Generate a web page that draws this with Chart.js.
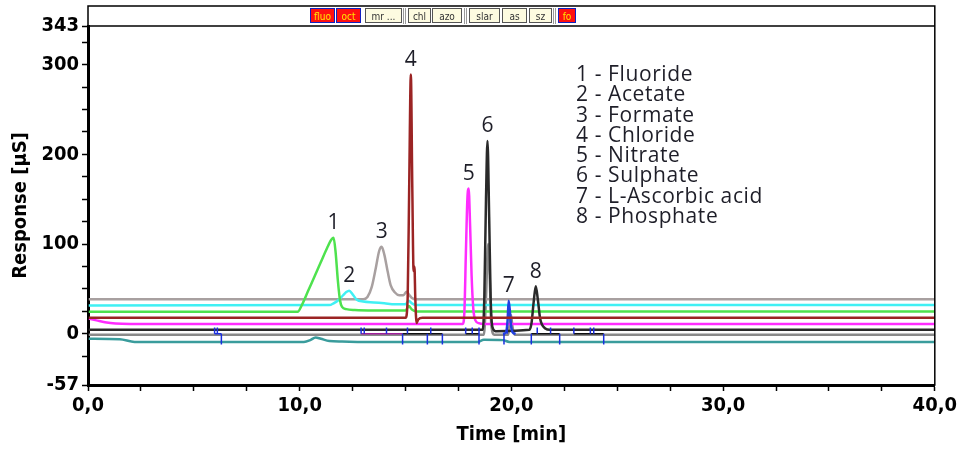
<!DOCTYPE html>
<html>
<head>
<meta charset="utf-8">
<script src="https://cdn.jsdelivr.net/npm/chart.js@4/dist/chart.umd.min.js"></script>
<style>
  body { margin: 0; background: #fff; }
  #wrap { position: relative; width: 960px; height: 450px; }
  .tag { position: absolute; top: 8px; height: 15px; font: 10px "DejaVu Sans Condensed", "DejaVu Sans", sans-serif;
         line-height: 15px; text-align: center; box-sizing: border-box; }
  .red { background: #ff1010; color: #ffe600; border: 1px solid #1020c0; }
  .pale { background: #fdfbe0; color: #333; border: 1px solid #555; }
  .sep { position: absolute; top: 8px; height: 16px; width: 3px; border-left: 1px solid #999; border-right: 1px solid #999; box-sizing: border-box; }
</style>
</head>
<body>
<div id="wrap">
  <canvas id="chrom" width="960" height="450"></canvas>
  <div class="tag red" style="left:310px;width:25px">fluo</div>
  <div class="tag red" style="left:336px;width:25px">oct</div>
  <div class="tag pale" style="left:365px;width:37px">mr ...</div>
  <div class="sep" style="left:403px"></div>
  <div class="tag pale" style="left:408px;width:23px">chl</div>
  <div class="tag pale" style="left:432px;width:30px">azo</div>
  <div class="sep" style="left:464px"></div>
  <div class="tag pale" style="left:469px;width:31px">slar</div>
  <div class="tag pale" style="left:502px;width:25px">as</div>
  <div class="tag pale" style="left:529px;width:23px">sz</div>
  <div class="sep" style="left:553px"></div>
  <div class="tag red" style="left:558px;width:18px">fo</div>
</div>
<script>
// compounds + peak labels
const compounds = ["Fluoride", "Acetate", "Formate", "Chloride", "Nitrate", "Sulphate", "L-Ascorbic acid", "Phosphate"];
const peakNo = ["1", "2", "3", "4", "5", "6", "7", "8"];
const peakTime = [11.6, 12.34, 13.87, 15.25, 17.98, 18.87, 19.87, 21.15];
const peakTop = [107, 48, 97, 289, 162, 215, 37, 53];

// traces (time in min, response in µS)
const formateT = [0, 13.0, 13.2, 13.4, 13.6, 13.75, 13.87, 14.0, 14.15, 14.3, 14.5, 14.7, 14.9, 15.05, 15.15, 15.3, 15.5, 40];
const formateV = [38.5, 38.5, 41, 52, 74, 92, 97, 88, 70, 54, 46, 43, 43, 47, 44, 40, 38.5, 38.5];
const acetateT = [0, 11.4, 11.6, 11.85, 12.05, 12.2, 12.34, 12.5, 12.7, 13.0, 13.5, 14.0, 14.5, 15.0, 15.15, 15.3, 15.5, 40];
const acetateV = [31.5, 32, 34, 38, 43, 46.5, 48, 44, 38, 36, 35, 34, 33, 33, 37, 34, 32, 32];
const fluorideT = [0, 9.9, 10.1, 10.4, 10.7, 11.0, 11.3, 11.5, 11.6, 11.7, 11.8, 11.9, 12.0, 12.2, 12.6, 13.5, 15.0, 15.15, 15.3, 15.5, 40];
const fluorideV = [24.5, 24.5, 32, 48, 64, 80, 96, 105, 107, 90, 60, 38, 30, 27.5, 26.5, 26, 26, 31, 27, 25, 25];
const chlorideT = [0, 15.0, 15.1, 15.17, 15.25, 15.32, 15.38, 15.42, 15.46, 15.52, 15.6, 15.8, 40];
const chlorideV = [18, 18, 40, 160, 289, 160, 70, 75, 40, 12, 16, 18, 18];
const nitrateT = [0, 0.4, 0.8, 1.3, 2.0, 17.7, 17.78, 17.85, 17.92, 17.98, 18.05, 18.12, 18.2, 18.3, 18.45, 18.7, 40];
const nitrateV = [17, 15, 13, 11.5, 11, 11, 25, 90, 150, 162, 120, 65, 28, 15, 12, 11, 11];
const sulphateT = [0, 18.65, 18.72, 18.8, 18.87, 18.95, 19.02, 19.1, 19.25, 20.85, 20.95, 21.05, 21.15, 21.25, 21.35, 21.45, 21.6, 21.8, 40];
const sulphateV = [4.5, 4.5, 40, 150, 215, 130, 40, 8, 3, 4.5, 12, 35, 53, 38, 18, 10, 6, 4.5, 4.5];
const grayT = [0, 18.7, 18.8, 18.9, 18.98, 19.05, 19.2, 19.85, 19.92, 19.98, 20.05, 20.15, 40];
const grayV = [-1, -1, 40, 100, 60, 10, -1, -1, 12, 21, 8, -1, -1];
const ascorbicT = [19.6, 19.75, 19.82, 19.87, 19.93, 19.98, 20.05, 20.2];
const ascorbicV = [0, 2, 15, 37, 25, 10, 2, 0];
const tealT = [0, 1.5, 2.2, 10.2, 10.5, 10.75, 11.0, 11.4, 12.0, 13.0, 18.4, 18.7, 19.6, 19.9, 40];
const tealV = [-5.5, -6, -9, -9, -7, -4, -5.5, -8, -8.5, -9, -9, -6.5, -7, -9, -9];

// integration marks
const upTicks = [5.98, 6.11, 12.9, 13.05, 14.1, 15.09, 16.19, 17.84, 18.15, 18.47, 19.8, 21.22, 21.85, 22.95, 23.73, 23.89];
const downTicks = [6.30, 14.86, 16.03, 16.74, 18.47, 19.65, 20.94, 22.28, 24.36];
const segStart = [5.98, 12.9, 14.86, 17.84, 20.94, 22.95];
const segEnd = [6.30, 14.86, 16.74, 18.47, 22.28, 24.36];

// axes
const xTicks = [0, 2.5, 5, 7.5, 10, 12.5, 15, 17.5, 20, 22.5, 25, 27.5, 30, 32.5, 35, 37.5, 40];
const yTicks = [-57, -25, 0, 25, 50, 75, 100, 125, 150, 175, 200, 225, 250, 275, 300, 325, 343];
const yLabels = [-57, 0, 100, 200, 300, 343];

const pts = (t, v) => t.map((x, i) => ({ x, y: v[i] }));

const marks = [];
upTicks.forEach((t) => marks.push({ x: t, y: 0 }, { x: t, y: 7 }, { x: t, y: null }));
downTicks.forEach((t) => marks.push({ x: t, y: 0 }, { x: t, y: -12 }, { x: t, y: null }));
const baseSegs = [];
segStart.forEach((t, i) => baseSegs.push({ x: t, y: 0 }, { x: segEnd[i], y: 0 }, { x: segEnd[i], y: null }));

function trace(label, t, v, color) {
  return { label, data: pts(t, v), borderColor: color, borderWidth: 2.5, pointRadius: 0, cubicInterpolationMode: "monotone" };
}

const tickFont = { family: "'Liberation Sans Narrow', 'DejaVu Sans Condensed', sans-serif", size: 20, weight: "bold" };
const titleFont = { family: "'Liberation Sans Narrow', 'DejaVu Sans Condensed', sans-serif", size: 20, weight: "bold" };
const textFont = "21px 'Open Sans', Lato, sans-serif";

const frame = {
  id: "frame",
  afterDraw(chart) {
    const { ctx, chartArea: a, scales } = chart;
    ctx.save();
    ctx.strokeStyle = "#000";
    ctx.lineWidth = 1.5;
    ctx.strokeRect(a.left, 6, a.right - a.left, a.bottom - 6);
    ctx.beginPath();
    ctx.moveTo(a.left, a.top);
    ctx.lineTo(a.right, a.top);
    ctx.stroke();

    ctx.fillStyle = "#1e1e28";
    ctx.font = textFont;
    ctx.textAlign = "center";
    ctx.textBaseline = "bottom";
    peakNo.forEach((n, i) => {
      ctx.fillText(n, scales.x.getPixelForValue(peakTime[i]), scales.y.getPixelForValue(peakTop[i]) - 4);
    });

    ctx.textAlign = "left";
    ctx.textBaseline = "middle";
    ctx.letterSpacing = "0.6px";
    compounds.forEach((c, i) => ctx.fillText(`${i + 1} - ${c}`, 576, 75 + i * 20.3));
    ctx.restore();
  },
};

new Chart(document.getElementById("chrom"), {
  type: "line",
  data: {
    datasets: [
      { label: "marks", data: marks, borderColor: "#1a2ee0", borderWidth: 1.5, pointRadius: 0, spanGaps: false },
      {
        label: "baseline", data: baseSegs, borderWidth: 1.5, pointRadius: 0, spanGaps: false,
        segment: { borderColor: (c) => (c.p0.parsed.x < 7 ? "#1a2ee0" : c.p0.parsed.x < 14 ? "#a0209a" : "#111") },
      },
      trace("Chloride", chlorideT, chlorideV, "#9b2424"),
      trace("Ascorbic", ascorbicT, ascorbicV, "#2040e0"),
      trace("Sulphate", sulphateT, sulphateV, "#2a2a2a"),
      trace("Nitrate", nitrateT, nitrateV, "#ff2cff"),
      trace("Fluoride", fluorideT, fluorideV, "#4ee24e"),
      trace("Acetate", acetateT, acetateV, "#40f0f4"),
      trace("Formate", formateT, formateV, "#a8a0a0"),
      trace("Gray", grayT, grayV, "#8a8a8a"),
      trace("Teal", tealT, tealV, "#3a9c9c"),
    ],
  },
  options: {
    responsive: false,
    animation: false,
    devicePixelRatio: 1,
    layout: { padding: { left: 0, right: 23, top: 26, bottom: 0 } },
    plugins: { legend: { display: false }, tooltip: { enabled: false } },
    scales: {
      x: {
        type: "linear", min: 0, max: 40,
        afterBuildTicks: (s) => { s.ticks = xTicks.map((v) => ({ value: v })); },
        afterFit: (s) => { s.height = 65; },
        ticks: {
          autoSkip: false, maxRotation: 0, padding: 3, color: "#000", font: tickFont,
          callback: (v) => (v % 10 === 0 ? v.toFixed(1).replace(".", ",") : ""),
        },
        grid: { drawOnChartArea: false, tickLength: 6, color: "#000", tickWidth: 1.5 },
        border: { color: "#000", width: 3 },
        title: { display: true, text: "Time [min]", color: "#000", font: titleFont, padding: { top: 0, bottom: 3 } },
      },
      y: {
        type: "linear", min: -57, max: 343,
        afterBuildTicks: (s) => { s.ticks = yTicks.map((v) => ({ value: v })); },
        afterFit: (s) => { s.width = 88; },
        ticks: {
          autoSkip: false, padding: 3, color: "#000", font: tickFont,
          callback: (v) => (yLabels.includes(v) ? String(v) : ""),
        },
        grid: { drawOnChartArea: false, tickLength: 6, color: "#000", tickWidth: 1.5 },
        border: { color: "#000", width: 3 },
        title: { display: true, text: "Response [µS]", color: "#000", font: titleFont, padding: { top: 9 } },
      },
    },
  },
  plugins: [frame],
});
</script>
</body>
</html>
